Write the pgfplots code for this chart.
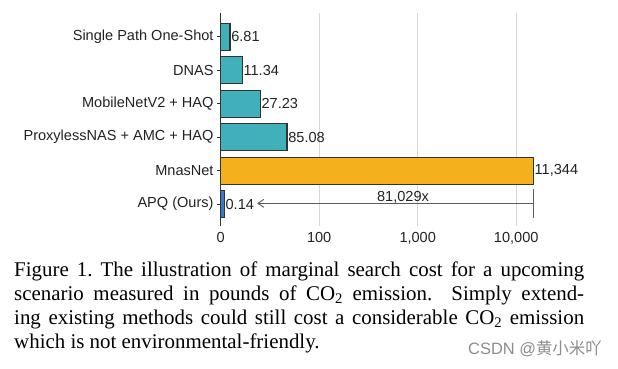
\documentclass[border=0pt]{standalone}
\usepackage{pgfplots}
\pgfplotsset{compat=1.18}
\usepackage{pgfplotstable}
\usepackage{fontspec}
\usetikzlibrary{arrows.meta}
\setmainfont{Liberation Serif}
\newfontfamily\chartfont{Liberation Sans}
\newfontfamily\cjk{Noto Sans CJK SC}
\definecolor{tealbar}{HTML}{41B0BB}
\definecolor{orangebar}{HTML}{F5B11C}
\definecolor{bluebar}{HTML}{3A78CC}
\definecolor{edge}{HTML}{333333}
\definecolor{gridc}{HTML}{D6D6D6}
\definecolor{txt}{HTML}{222222}

% pos = bar end in tick units (0 ->0, 1 ->100, 2 ->1,000, 3 ->10,000), as drawn
\pgfplotstableread{
row pos label
2 0.673 85.08
3 0.402 27.23
4 0.219 11.34
5 0.094 6.81
}\teal
\pgfplotstableread{
row pos label
1 3.174 11,344
}\mnas
\pgfplotstableread{
row pos label
0 0.0365 0.14
}\apq

\begin{document}
\begin{tikzpicture}[x=1bp,y=1bp]
\path[use as bounding box] (0,0) rectangle (618,-368);
\begin{axis}[
  at={(220.7bp,-226bp)}, anchor=south west,
  x=98.5bp, y=33.46bp,
  xmin=0, xmax=3.5, ymin=-0.657, ymax=5.70,
  axis line style={draw=none},
  xtick={0,1,2,3}, xticklabels={0,100,{1,000},{10,000}},
  ytick={0,...,5},
  yticklabels={APQ (Ours),MnasNet,ProxylessNAS + AMC + HAQ,MobileNetV2 + HAQ,DNAS,Single Path One-Shot},
  ytick pos=left, tick align=outside,
  major tick length=3.5bp,
  x tick style={draw=none},
  y tick style={edge, line width=0.8bp},
  xmajorgrids, grid style={gridc, line width=1bp},
  tick label style={font=\chartfont\fontsize{14.6}{16}\selectfont, text=txt},
  xticklabel style={inner sep=1bp, yshift=-2bp},
  yticklabel style={inner sep=3.5bp},
  xbar, bar width=27bp, bar shift=0pt,
  nodes near coords, point meta=explicit symbolic,
  nodes near coords style={font=\chartfont\fontsize{14.6}{16}\selectfont, text=txt, anchor=west, inner sep=0.8bp},
  clip=false,
]
\addplot[fill=tealbar, draw=edge, line width=1.1bp] table[x=pos, y=row, meta=label]{\teal};
\addplot[fill=orangebar, draw=edge, line width=1.1bp] table[x=pos, y=row, meta=label]{\mnas};
\addplot[fill=bluebar, draw=edge, line width=1.1bp] table[x=pos, y=row, meta=label]{\apq};
\draw[edge, line width=1bp] (axis cs:0,-0.657) -- (axis cs:0,5.70);
\draw[edge!80, line width=0.9bp] (axis cs:3.174,-0.43) -- (axis cs:3.174,0.44);
\draw[edge!80, line width=0.9bp, -{Straight Barb[length=6bp,width=8bp]}] (axis cs:3.174,0.02) -- (axis cs:0.369,0.02);
\node[anchor=base, inner sep=0pt, font=\chartfont\fontsize{14.6}{16}\selectfont, text=txt] at (axis cs:1.851,0.09) {81,029x};
\end{axis}
\node[anchor=north west, inner sep=0pt, align=left, font=\fontsize{21}{24.1}\selectfont] at (14,-261.8) {%
\makebox[570bp][s]{Figure 1.\ The illustration of marginal search cost for a upcoming}\\
\makebox[570bp][s]{scenario measured in pounds of CO\textsubscript{2} emission.\ \ Simply extend-}\\
\makebox[570bp][s]{ing existing methods could still cost a considerable CO\textsubscript{2} emission}\\
which is not environmental-friendly.};
\node[anchor=base east, inner sep=0pt, text=black!45] at (602,-354) {\chartfont\fontsize{16.5}{18}\selectfont CSDN @{\cjk 黄小米吖}};
\end{tikzpicture}
\end{document}
